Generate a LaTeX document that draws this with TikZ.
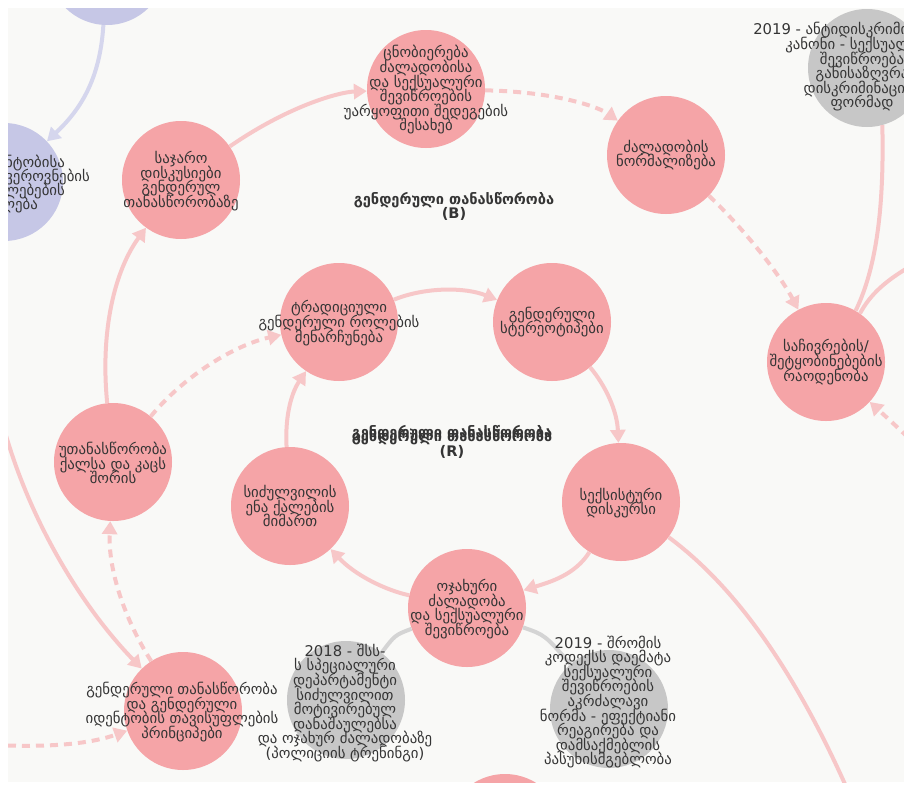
\documentclass[tikz,border=0pt]{standalone}
\usepackage{fontspec}
\setmainfont{DejaVu Sans}
\usetikzlibrary{arrows.meta}
\definecolor{bgc}{HTML}{F9F9F7}
\definecolor{nodepink}{HTML}{F5A4A7}
\definecolor{nodegrey}{HTML}{C7C7C7}
\definecolor{nodeviolet}{HTML}{C6C7E6}
\definecolor{linkpink}{HTML}{F7C7C8}
\definecolor{linkgrey}{HTML}{D4D4D4}
\definecolor{linkviolet}{HTML}{D5D6ED}
\definecolor{txtc}{HTML}{353535}
\newcommand\gtightlines{\lineskiplimit=-100pt\relax\lineskip=0pt\relax}
\tikzset{
  circ/.style={circle, minimum size=118pt, inner sep=0pt, draw=none},
  pnode/.style={circ, fill=nodepink},
  gnode/.style={circ, fill=nodegrey},
  vnode/.style={circ, fill=nodeviolet},
  txt/.style={text=txtc, align=center, inner sep=0pt, font=\fontsize{14.8}{14.6}\selectfont\gtightlines},
  ttl/.style={text=txtc, align=center, inner sep=0pt, font=\bfseries\fontsize{14.6}{14}\selectfont\gtightlines},
  conn/.style={draw=linkpink, line width=4pt, -{Triangle[length=13pt,width=15pt]}},
  dconn/.style={conn, dash pattern=on 8pt off 6pt},
  plain/.style={draw=linkpink, line width=4pt},
  glink/.style={draw=linkgrey, line width=4pt},
  vconn/.style={draw=linkviolet, line width=4pt, -{Triangle[length=13pt,width=15pt]}},
}
\begin{document}
\begin{tikzpicture}[x=1pt,y=-1pt]
\useasboundingbox (0,0) rectangle (904,787);
\fill[white] (0,0) rectangle (904,787);
\clip (8,8) rectangle (904,782);
\fill[bgc] (8,8) rectangle (904,782);

% nodes (circles)
\node[vnode] (vtop) at (107,-34) {};
\node[vnode] (vleft) at (4,182) {};
\node[pnode] (s) at (181,180) {};
\node[pnode] (c) at (426,89) {};
\node[pnode] (n) at (666,155) {};
\node[gnode] (ga) at (867,68) {};
\node[pnode] (k) at (826,362) {};
\node[pnode] (t) at (339,322) {};
\node[pnode] (st) at (552,322) {};
\node[pnode] (sx) at (621,502) {};
\node[pnode] (o) at (467,608) {};
\node[pnode] (h) at (290,506) {};
\node[pnode] (u) at (113,462) {};
\node[pnode] (p) at (183,711) {};
\node[gnode] (gb) at (346,700) {};
\node[gnode] (gc) at (609,709) {};
\node[pnode] (bot) at (505,833) {};

\coordinate (rin1) at (918,262);
\coordinate (rin2) at (918,447);
\coordinate (lin1) at (-2,405);
\coordinate (lin2) at (-6,745);
\coordinate (bout) at (852,800);

% connectors
\draw[vconn] (vtop) .. controls (100,80) and (80,110) .. (vleft);
\draw[conn] (s) .. controls (290,105) and (340,92) .. (c);
\draw[dconn] (c) .. controls (560,92) and (600,108) .. (n);
\draw[dconn] (n) .. controls (745,230) and (780,275) .. (k);
\draw[plain] (ga.285) .. controls (884,200) and (878,265) .. (k.60);
\draw[plain] (rin1) .. controls (885,280) and (870,295) .. (k.55);
\draw[dconn] (rin2) .. controls (895,425) .. (k);
\draw[conn] (t) .. controls (425,287) and (465,287) .. (st);
\draw[conn] (st) .. controls (605,385) and (617,410) .. (sx);
\draw[conn] (sx) .. controls (575,575) and (550,582) .. (o);
\draw[conn] (o) .. controls (385,590) and (355,575) .. (h);
\draw[conn] (h) .. controls (285,420) and (290,395) .. (t);
\draw[conn] (u) .. controls (100,330) and (115,270) .. (s);
\draw[dconn] (u) .. controls (185,375) and (235,345) .. (t);
\draw[dconn] (p) .. controls (125,620) and (108,570) .. (u);
\draw[conn] (lin1) .. controls (22,510) and (80,605) .. (p);
\draw[dconn] (lin2) .. controls (60,748) and (95,742) .. (p);
\draw[glink] (o) .. controls (395,635) .. (gb);
\draw[glink] (o) .. controls (545,635) .. (gc);
\draw[plain] (sx) .. controls (740,590) and (800,680) .. (bout);

% texts
\node[txt, anchor=east] (vl1) at (65,163) {ნტობისა};
\node[txt, anchor=east] (vl2) at (90,177) {ვეროვნების};
\node[txt, anchor=east] (vl3) at (65,191) {ლებების};
\node[txt, anchor=east] (vl4) at (38,205) {ლება};
\node[txt] (s-t) at (181,181) {საჯარო\\დისკუსიები\\გენდერულ\\თანასწორობაზე};
\node[txt] (c-t) at (426,90) {ცნობიერება\\ძალადობისა\\და სექსუალური\\შევიწროების\\უარყოფითი შედეგების\\შესახებ};
\node[txt] (n-t) at (666,155) {ძალადობის\\ნორმალიზება};
\node[txt] (ga-t) at (862,67) {2019 - ანტიდისკრიმინაციული\\კანონი - სექსუალური\\შევიწროება\\განისაზღვრა\\დისკრიმინაციის\\ფორმად};
\node[txt] (k-t) at (826,362) {საჩივრების/\\შეტყობინებების\\რაოდენობა};
\node[txt] (t-t) at (339,323) {ტრადიციული\\გენდერული როლების\\მენარჩუნება};
\node[txt] (st-t) at (552,322) {გენდერული\\სტერეოტიპები};
\node[txt] (sx-t) at (621,503) {სექსისტური\\დისკურსი};
\node[txt] (o-t) at (467,609) {ოჯახური\\ძალადობა\\და სექსუალური\\შევიწროება};
\node[txt] (h-t) at (290,506) {სიძულვილის\\ენა ქალების\\მიმართ};
\node[txt] (u-t) at (113,463) {უთანასწორობა\\ქალსა და კაცს\\შორის};
\node[txt] (p-t) at (182,712) {გენდერული თანასწორობა\\და გენდერული\\იდენტობის თავისუფლების\\პრინციპები};
\node[txt] (gb-t) at (345,703) {2018 - შსს-\\ს სპეციალური\\დეპარტამენტი\\სიძულვილით\\მოტივირებულ\\დანაშაულებსა\\და ოჯახურ ძალადობაზე\\(პოლიციის ტრენინგი)};
\node[txt] (gc-t) at (608,702) {2019 - შრომის\\კოდექსს დაემატა\\სექსუალური\\შევიწროების\\აკრძალავი\\ნორმა - ეფექტიანი\\რეაგირება და\\დამსაქმებლის\\პასუხისმგებლობა};
\node[ttl] (tb) at (454,206) {გენდერული თანასწორობა\\(B)};
\node[ttl] (tr1) at (452,433) {გენდერული თანასწორობა};
\node[ttl] (tr2) at (452,437) {გენდერული თანასწორობა};
\node[ttl] (tr3) at (452,452) {(R)};
\end{tikzpicture}
\end{document}
